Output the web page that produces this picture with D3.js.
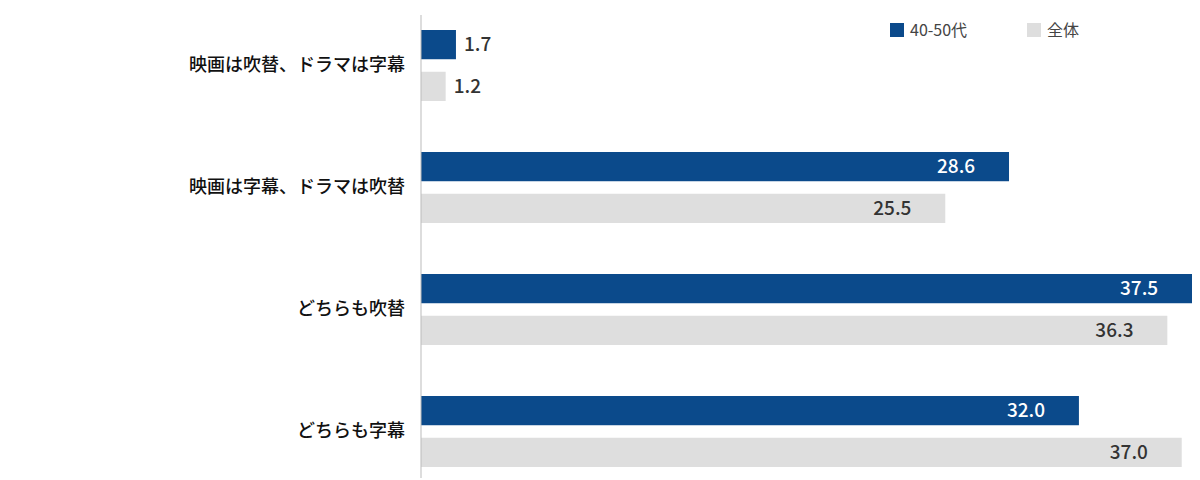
<!DOCTYPE html>
<html><head><meta charset="utf-8">
<script src="https://cdn.jsdelivr.net/npm/d3@7"></script>
<style>body{margin:0;background:#fff;font-family:"Noto Sans CJK JP","Noto Sans",sans-serif}</style>
</head><body>
<script>
const categories = ["映画は吹替、ドラマは字幕", "映画は字幕、ドラマは吹替", "どちらも吹替", "どちらも字幕"];
const seriesNames = ["40-50代", "全体"];
const age4050 = [1.7, 28.6, 37.5, 32.0];
const overall = [1.2, 25.5, 36.3, 37.0];
const colors = ["#0b4a8b", "#dedede"];

const W = 1200, H = 480;
const svg = d3.select("body").append("svg").attr("width", W).attr("height", H);

const x = d3.scaleLinear().domain([0, 37.5]).range([421, 1192]);
const y = d3.scaleBand().domain(categories).range([15, 503]);
const sub = d3.scaleBand().domain(seriesNames).range([15, 86]).paddingInner(0.3);

const rows = categories.map((c, i) => ({c, vals: [age4050[i], overall[i]]}));
const g = svg.selectAll("g.row").data(rows).enter().append("g")
  .attr("transform", d => `translate(0,${y(d.c)})`);

g.each(function (d) {
  const gg = d3.select(this);
  d.vals.forEach((v, k) => {
    const yy = sub(seriesNames[k]);
    gg.append("rect").attr("x", x(0)).attr("y", yy)
      .attr("width", x(v) - x(0)).attr("height", sub.bandwidth()).attr("fill", colors[k]);
    const outside = x(v) - x(0) < 60;
    gg.append("text")
      .attr("x", outside ? x(v) + 8 : x(v) - 72)
      .attr("y", yy + sub.bandwidth() / 2)
      .attr("dy", "0.35em").attr("font-size", 19).attr("font-weight", 500)
      .attr("fill", outside ? "#333" : (k === 0 ? "#fff" : "#333"))
      .text(v.toFixed(1));
  });
  gg.append("text").attr("x", 405).attr("y", sub.bandwidth() + 20)
    .attr("dy", "0.35em").attr("text-anchor", "end").attr("font-size", 18)
    .attr("font-weight", 500).attr("fill", "#111").text(d.c);
});

svg.append("line").attr("x1", x(0)).attr("x2", x(0)).attr("y1", 15).attr("y2", 478)
  .attr("stroke", "#bbb");

const lg = svg.append("g").attr("transform", "translate(890,23)");
seriesNames.forEach((n, k) => {
  const ox = k * 137;
  lg.append("rect").attr("x", ox).attr("y", 0).attr("width", 14).attr("height", 14).attr("fill", colors[k]);
  lg.append("text").attr("x", ox + 20).attr("y", 7).attr("dy", "0.35em")
    .attr("font-size", 16).attr("fill", "#444").text(n);
});
</script>
</body></html>
